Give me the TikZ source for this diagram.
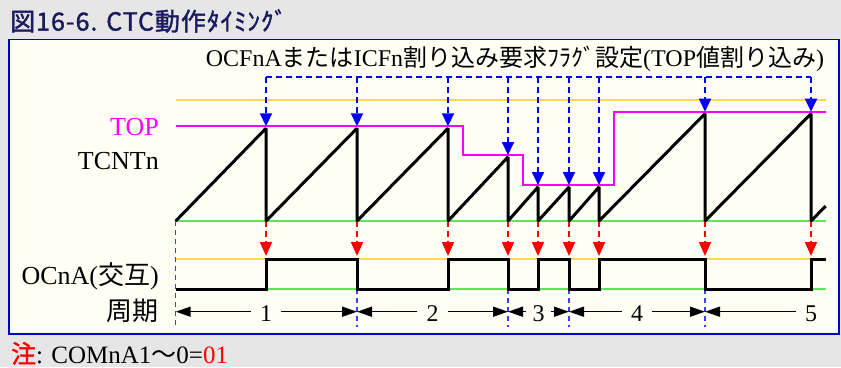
\documentclass[tikz,border=0pt]{standalone}
\usepackage{fontspec}
\setmainfont{Liberation Serif}
\newfontfamily\jp{Noto Sans CJK JP}
\newfontfamily\jpmid[FakeBold=1.5]{Noto Sans CJK JP}
\newfontfamily\jptitle[FakeBold=1.5,LetterSpace=4]{Noto Sans CJK JP}
\usetikzlibrary{arrows.meta}
\definecolor{bggray}{HTML}{E6E6E6}
\definecolor{paper}{HTML}{FFFFF5}
\definecolor{frameblue}{HTML}{0000C8}
\definecolor{titlenavy}{HTML}{1A1A5E}
\definecolor{gold}{HTML}{FFD45A}
\definecolor{lgreen}{HTML}{5CE65C}
\definecolor{mag}{HTML}{FF00FF}
\definecolor{dblue}{HTML}{0000FF}
\definecolor{lblue}{HTML}{3C3CFF}
\definecolor{dred}{HTML}{FF0000}
\begin{document}
\begin{tikzpicture}[x=1pt,y=-1pt,
  guideline/.style={line width=2pt},
  sawline/.style={line width=3pt, line join=bevel},
  flagline/.style={dblue, line width=1.8pt, dash pattern=on 6pt off 4pt},
  flagarrow/.style={flagline, -{Triangle[length=13pt,width=12pt]}},
  ocarrow/.style={dred, line width=1.8pt, dash pattern=on 6pt off 4pt, -{Triangle[length=14pt,width=12pt]}},
  bound/.style={lblue, line width=1.2pt, dash pattern=on 5pt off 4pt},
  perarrow/.style={line width=1.5pt, -{Triangle[length=15pt,width=10pt]}},
  lab/.style={font=\fontsize{26}{30}\selectfont, anchor=base east, inner sep=0pt},
  perlab/.style={font=\fontsize{24}{28}\selectfont, inner xsep=9pt, inner ysep=0pt}]
\useasboundingbox (0,0) rectangle (841,367);
\fill[bggray] (0,0) rectangle (841,367);
\draw[frameblue, line width=1.5pt, fill=paper] (9,39.5) rectangle (839,334);

% title
\node[anchor=west, text=titlenavy, font=\jptitle\fontsize{25}{29}\selectfont, inner sep=0pt] (title) at (10,21) {図16-6. CTC動作ﾀｲﾐﾝｸﾞ};

% flag text
\node[anchor=base, font=\fontsize{24}{28}\selectfont, inner sep=0pt] (flagtxt) at (515,66.7)
  {OCFnA{\jp または}ICFn{\jp 割り込み要求ﾌﾗｸﾞ設定}(TOP{\jp 値割り込み})};

% left labels
\node[lab, text=mag] (ltop) at (159,135) {TOP};
\node[lab] (ltcnt) at (159,169.5) {TCNTn};
\node[lab] (locna) at (159,284) {OCnA({\jp 交互})};
\node[lab] (lper) at (159,320) {{\jp 周期}};

% guide lines
\draw[guideline, gold] (175.7,100) -- (825.7,100);
\draw[guideline, lgreen] (175.7,221) -- (825.7,221);
\draw[guideline, gold] (175.7,259) -- (825.7,259);
\draw[guideline, lgreen] (175.7,289) -- (825.7,289);

% TOP line
\draw[guideline, mag] (175.7,126.3) -- (462.7,126.3) -- (462.7,155) -- (523.3,155)
  -- (523.3,185) -- (614,185) -- (614,111.7) -- (825.7,111.7);

% boundary dashed lines
\coordinate (bt0) at (175.7,221); \coordinate (bb0) at (175.7,327);
\foreach \x [count=\i] in {357,508,569,705} {
  \coordinate (bt\i) at (\x,289); \coordinate (bb\i) at (\x,327);
}
\foreach \i in {0,...,4} { \draw[bound] (bt\i) -- (bb\i); }

% flag arrows
\draw[flagline] (266,77.3) -- (811,77.3);
\foreach \x/\L [count=\i] in {266/126.3,357/126.3,448/126.3,508/155,538/185,569/185,599/185,705/111.7,811/111.7} {
  \coordinate (fs\i) at (\x,77.3);
  \coordinate (fe\i) at (\x,\L);
  \draw[flagarrow] (fs\i) -- (fe\i);
  \coordinate (os\i) at (\x,221);
  \coordinate (oe\i) at (\x,256);
  \draw[ocarrow] (os\i) -- (oe\i);
}

% TCNTn sawtooth
\draw[sawline] (175.7,221) -- (266,128.3) -- (266,221) -- (357,128.3) -- (357,221)
  -- (448,128.3) -- (448,221) -- (508,157) -- (508,221) -- (538,187) -- (538,221)
  -- (569,187) -- (569,221) -- (599,187) -- (599,221) -- (705,113.7) -- (705,221)
  -- (811,113.7) -- (811,221) -- (825.7,206);

% OCnA waveform
\draw[sawline, line join=miter] (175.7,289) -- (266,289) -- (266,259) -- (357,259) -- (357,289)
  -- (448,289) -- (448,259) -- (508,259) -- (508,289) -- (538,289) -- (538,259)
  -- (569,259) -- (569,289) -- (599,289) -- (599,259) -- (705,259) -- (705,289)
  -- (811,289) -- (811,259) -- (825.7,259);

% periods
\coordinate (b0) at (175.7,311.7);
\coordinate (b1) at (357,311.7);
\coordinate (b2) at (508,311.7);
\coordinate (b3) at (569,311.7);
\coordinate (b4) at (705,311.7);
\node[perlab] (p1) at (266,313.5) {1};
\node[perlab] (p2) at (432.5,313.5) {2};
\node[perlab, inner xsep=6pt] (p3) at (538.5,313.5) {3};
\node[perlab] (p4) at (637,313.5) {4};
\node[perlab] (p5) at (811,313.5) {5};
\draw[perarrow] (p1.west |- b0) -- (b0);
\draw[perarrow] (p1.east |- b0) -- (b1);
\draw[perarrow] (p2.west |- b0) -- (b1);
\draw[perarrow] (p2.east |- b0) -- (b2);
\draw[perarrow] (p3.west |- b0) -- (b2);
\draw[perarrow] (p3.east |- b0) -- (b3);
\draw[perarrow] (p4.west |- b0) -- (b3);
\draw[perarrow] (p4.east |- b0) -- (b4);
\draw[perarrow] (p5.west |- b0) -- (b4);

% footer
\node[anchor=base west, inner sep=0pt, font=\fontsize{25}{29}\selectfont] (note) at (11,363)
  {{\jpmid\color{dred}注}: COMnA1{\jp ～}0={\color{dred}01}};
\end{tikzpicture}
\end{document}
